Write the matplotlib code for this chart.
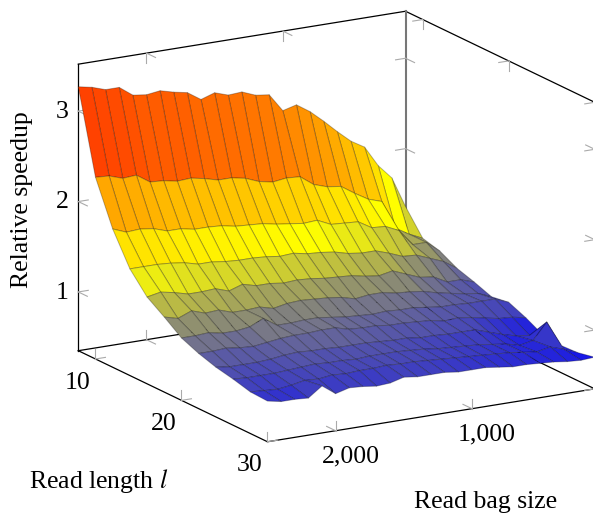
import numpy as np
from matplotlib import pyplot as plt
from matplotlib.colors import LinearSegmentedColormap, Normalize
from mpl_toolkits.mplot3d import proj3d

plt.rcParams["font.family"] = ["Liberation Serif", "DejaVu Serif"]
plt.rcParams["mathtext.fontset"] = "stix"

# read length (rows), read bag size (columns, left to right in the picture)
read_length = [8, 10, 12, 14, 16, 18, 20, 22, 24, 26, 28, 30]
bag_size = [2500, 2400, 2300, 2200, 2100, 2000, 1900, 1800, 1700, 1600, 1500, 1400, 1300,
            1200, 1100, 1000, 900, 800, 700, 600, 500, 400, 300, 200, 100]

l08 = [3.27, 3.24, 3.19, 3.19, 3.08, 3.06, 3.08, 3.04, 3.01, 2.91, 2.96, 2.91, 2.92,
       2.86, 2.84, 2.64, 2.68, 2.58, 2.45, 2.31, 2.18, 2.09, 1.86, 1.70, 1.36]
l10 = [2.36, 2.35, 2.30, 2.31, 2.21, 2.20, 2.17, 2.18, 2.15, 2.11, 2.11, 2.08, 2.02,
       1.99, 2.01, 2.00, 1.89, 1.84, 1.82, 1.72, 1.63, 1.58, 1.26, 1.17, 1.10]
l12 = [1.88, 1.82, 1.83, 1.81, 1.76, 1.76, 1.73, 1.73, 1.72, 1.69, 1.68, 1.67, 1.64,
       1.62, 1.60, 1.61, 1.54, 1.53, 1.52, 1.43, 1.42, 1.35, 1.17, 1.17, 1.05]
l14 = [1.53, 1.53, 1.53, 1.52, 1.50, 1.46, 1.46, 1.44, 1.43, 1.43, 1.42, 1.40, 1.41,
       1.38, 1.37, 1.35, 1.31, 1.29, 1.29, 1.24, 1.18, 1.17, 1.11, 1.05, 0.95]
l16 = [1.31, 1.34, 1.31, 1.27, 1.27, 1.28, 1.23, 1.28, 1.24, 1.24, 1.22, 1.23, 1.22,
       1.20, 1.19, 1.18, 1.15, 1.13, 1.16, 1.10, 1.04, 1.02, 0.94, 0.94, 0.89]
l18 = [1.18, 1.14, 1.20, 1.15, 1.16, 1.11, 1.11, 1.12, 1.08, 1.11, 1.12, 1.11, 1.10,
       1.08, 1.04, 1.06, 1.06, 1.03, 1.02, 1.00, 0.96, 0.93, 0.90, 0.88, 0.82]
l20 = [1.04, 1.04, 1.05, 1.02, 1.02, 1.04, 1.11, 1.01, 1.01, 1.02, 1.02, 1.00, 0.98,
       0.97, 0.96, 0.97, 0.96, 0.96, 0.94, 0.92, 0.92, 0.91, 0.91, 0.91, 0.85]
l22 = [0.96, 0.96, 0.97, 0.95, 0.94, 0.96, 0.98, 0.99, 0.99, 1.00, 1.00, 0.96, 0.95,
       0.95, 0.93, 0.93, 0.92, 0.91, 0.88, 0.89, 0.87, 0.84, 0.81, 0.80, 0.77]
l24 = [0.90, 0.88, 0.88, 0.88, 0.89, 0.91, 0.92, 0.91, 0.91, 0.90, 0.90, 0.90, 0.89,
       0.88, 0.88, 0.86, 0.86, 0.85, 0.85, 0.85, 0.80, 0.75, 0.71, 0.69, 0.67]
l26 = [0.86, 0.85, 0.85, 0.85, 0.86, 0.87, 0.88, 0.87, 0.87, 0.86, 0.87, 0.87, 0.87,
       0.86, 0.85, 0.83, 0.82, 0.81, 0.80, 0.78, 0.76, 0.72, 0.75, 0.93, 0.65]
l28 = [0.81, 0.80, 0.79, 0.81, 0.84, 0.83, 0.85, 0.84, 0.85, 0.85, 0.86, 0.85, 0.85,
       0.84, 0.83, 0.82, 0.81, 0.80, 0.79, 0.78, 0.76, 0.74, 0.77, 0.72, 0.66]
l30 = [0.80, 0.77, 0.77, 0.76, 0.87, 0.76, 0.80, 0.79, 0.77, 0.78, 0.82, 0.80, 0.80,
       0.80, 0.78, 0.78, 0.78, 0.76, 0.74, 0.74, 0.73, 0.72, 0.70, 0.69, 0.70]
speedup = np.array([l08, l10, l12, l14, l16, l18, l20, l22, l24, l26, l28, l30])

l_ticks = [10, 20, 30]
bag_ticks = [1000, 2000]
bag_labels = ["1,000", "2,000"]
z_ticks = [1, 2, 3]

l_min, l_max = 8, 30
bag_min, bag_max = 100, 2500
z_min, z_max = 0.35, 3.52
color_min = 0.6

W, H = 593, 514
side = 440  # the 3d axes stay square, box centre goes to px (336.5, 226.5)
fig = plt.figure(figsize=(W / 100, H / 100), dpi=100)
left = 336.5 - side * 0.95 / 1.85
bottom = (H - 226.5) - side * 0.95 / 1.85
ax = fig.add_axes([left / W, bottom / H, side / W, side / H], projection="3d", computed_zorder=False)
ax.set_proj_type("ortho")
ax.view_init(elev=16.2, azim=-30.1)
ax.set_box_aspect((378, 379, 299), zoom=594 / side)
ax.set_xlim(l_min, l_max, view_margin=0)
ax.set_ylim(bag_max, bag_min, view_margin=0)
ax.set_zlim(z_min, z_max, view_margin=0)
ax.set_xticks([])
ax.set_yticks([])
ax.set_zticks([])
ax.set_axis_off()
ax.patch.set_alpha(0)

hot = LinearSegmentedColormap.from_list("hot_pgf", ["blue", "yellow", (1, 0.5, 0), "red"])
L, B = np.meshgrid(read_length, bag_size, indexing="ij")
ax.plot_surface(
    L,
    B,
    speedup,
    rstride=1,
    cstride=1,
    cmap=hot,
    norm=Normalize(color_min, speedup.max()),
    shade=False,
    edgecolor=(0, 0, 0, 0.28),
    linewidth=0.7,
    antialiased=True,
    zorder=3,
    clip_on=False,
)


def edge(xs, ys, zs, color="k", lw=0.9):
    ax.plot(xs, ys, zs, color=color, lw=lw, zorder=1, clip_on=False)


# box
edge([l_min, l_min], [bag_max, bag_max], [z_min, z_max])
edge([l_min, l_max], [bag_max, bag_max], [z_min, z_min])
edge([l_max, l_max], [bag_max, bag_min], [z_min, z_min])
edge([l_min, l_min], [bag_max, bag_min], [z_min, z_min])
edge([l_min, l_max], [bag_min, bag_min], [z_min, z_min])
edge([l_min, l_min], [bag_max, bag_min], [z_max, z_max])
edge([l_min, l_max], [bag_min, bag_min], [z_max, z_max])
edge([l_max, l_max], [bag_min, bag_min], [z_min, z_max])
edge([l_min, l_min], [bag_min, bag_min], [z_min, z_max], color="#777777", lw=1.5)

# tick marks, two prongs each
dl, dbag, dz = 1.05, 73, 0.11


def tick(x, y, z, p1, p2):
    for p in (p1, p2):
        edge([x, x + p[0]], [y, y + p[1]], [z, z + p[2]], color="#aaaaaa", lw=0.8)


for v in l_ticks:
    tick(v, bag_max, z_min, (0, 0, dz), (0, -dbag, 0))
    tick(v, bag_min, z_max, (0, 0, -dz), (0, dbag, 0))
    tick(v, bag_min, z_min, (0, 0, dz), (0, dbag, 0))
for v in bag_ticks:
    tick(l_max, v, z_min, (0, 0, dz), (-dl, 0, 0))
    tick(l_min, v, z_min, (0, 0, dz), (dl, 0, 0))
    tick(l_min, v, z_max, (0, 0, -dz), (dl, 0, 0))
for v in z_ticks:
    tick(l_min, bag_max, v, (dl, 0, 0), (0, -dbag, 0))
    tick(l_min, bag_min, v, (dl, 0, 0), (0, dbag, 0))
    tick(l_max, bag_min, v, (-dl, 0, 0), (0, dbag, 0))

# tick labels, projected by hand so they are plain 2d texts
fs = 18.5
M = ax.get_proj()


def label3d(x, y, z, s):
    px, py, _ = proj3d.proj_transform(x, y, z, M)
    ax.text2D(px, py, s, transform=ax.transData, ha="center", va="center", fontsize=fs, clip_on=False)


for v in l_ticks:
    label3d(v, bag_max + 132, z_min - 0.23, str(v))
for v, s in zip(bag_ticks, bag_labels):
    label3d(l_max + 1.74, v, z_min - 0.21, s)
for v in z_ticks:
    label3d(l_min, bag_max + 117, v + 0.02, str(v))

fig.text(22 / W, 1 - 200 / H, "Relative speedup", rotation=90, ha="center", va="center", fontsize=fs)
fig.text(29 / W, 1 - 481 / H, "Read length $l$", ha="left", va="center", fontsize=fs)
fig.text(486 / W, 1 - 502 / H, "Read bag size", ha="center", va="center", fontsize=fs)

fig.savefig("out.png", dpi=100)
